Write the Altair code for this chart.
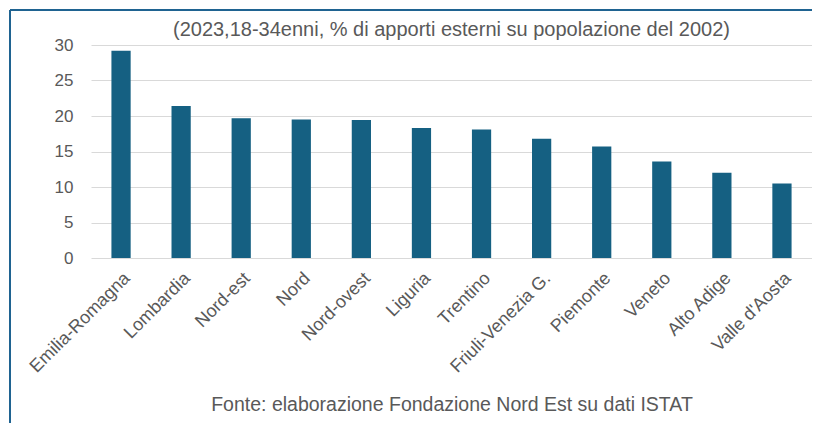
import altair as alt
import pandas as pd

regions = ["Emilia-Romagna", "Lombardia", "Nord-est", "Nord", "Nord-ovest", "Liguria",
           "Trentino", "Friuli-Venezia G.", "Piemonte", "Veneto", "Alto Adige", "Valle d'Aosta"]
values = [29.2, 21.4, 19.7, 19.5, 19.45, 18.3, 18.1, 16.8, 15.7, 13.6, 12.0, 10.5]
y_ticks = [0, 5, 10, 15, 20, 25, 30]

title_text = "(2023,18-34enni, % di apporti esterni su popolazione del 2002)"
source_text = "Fonte: elaborazione Fondazione Nord Est su dati ISTAT"

df = pd.DataFrame({"regione": regions, "valore": values})

FONT = "Liberation Sans"
GREY = "#595959"
BAR = "#156082"
FRAME = "#1f6391"

bars = alt.Chart(df).mark_bar(color=BAR).encode(
    x=alt.X("regione:N", sort=regions,
            scale=alt.Scale(paddingInner=0.68, paddingOuter=0.34),
            axis=alt.Axis(title=source_text, labelAngle=-45, labelFontSize=18,
                          labelColor=GREY, labelFont=FONT, ticks=False, domain=False,
                          labelPadding=11, titleFont=FONT, titleFontSize=19.5,
                          titleFontWeight="normal", titleColor=GREY,
                          titleY=146, titleBaseline="middle")),
    y=alt.Y("valore:Q", scale=alt.Scale(domain=[0, 30]),
            axis=alt.Axis(title=None, values=y_ticks, labelFontSize=17, labelColor=GREY,
                          labelFont=FONT, ticks=False, domain=False, labelPadding=18,
                          gridColor="#d9d9d9", gridWidth=1)),
)

frame_data = alt.Data(values=[{"k": 1}])
left_line = alt.Chart(frame_data).mark_rule(color=FRAME, strokeWidth=2).encode(
    x=alt.value(-81), y=alt.value(-35), y2=alt.value(384))
top_line = alt.Chart(frame_data).mark_rule(color=FRAME, strokeWidth=2).encode(
    x=alt.value(-81), x2=alt.value(721), y=alt.value(-35))

chart = alt.layer(bars, left_line, top_line).properties(
    width=721, height=213,
    title=alt.TitleParams(title_text, font=FONT, fontSize=20, fontWeight="normal",
                          color=GREY, anchor="middle", offset=0, dy=31),
    autosize=alt.AutoSizeParams(type="none"),
    padding={"left": 83, "top": 37, "right": 0, "bottom": 165},
).configure_view(stroke=None)

chart.save("out.html", embed_options={"renderer": "svg", "actions": False})
